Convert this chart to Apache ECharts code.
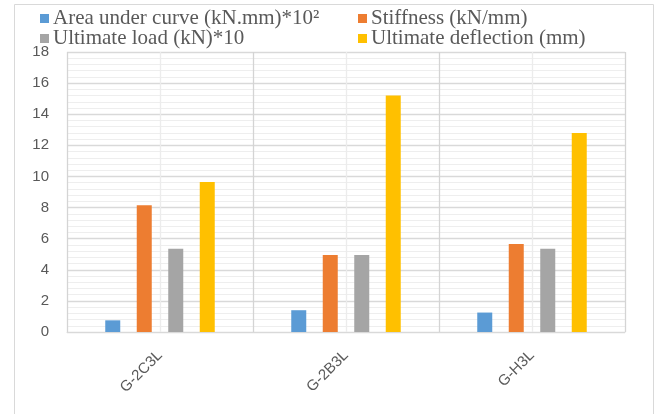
<!DOCTYPE html>
<html>
<head>
<meta charset="utf-8">
<script src="https://cdn.jsdelivr.net/npm/echarts@6/dist/echarts.min.js"></script>
<style>html,body{margin:0;padding:0;background:#fff;}#c{width:661px;height:414px;}</style>
</head>
<body>
<div id="c"></div>
<script>
const categories = ['G-2C3L', 'G-2B3L', 'G-H3L'];
const seriesNames = ['Area under curve (kN.mm)*10²', 'Stiffness (kN/mm)', 'Ultimate load (kN)*10', 'Ultimate deflection (mm)'];
const areaUnderCurve = [0.75, 1.4, 1.25];
const stiffness = [8.15, 4.95, 5.65];
const ultimateLoad = [5.35, 4.95, 5.35];
const ultimateDeflection = [9.65, 15.2, 12.8];
const yTicks = [0, 2, 4, 6, 8, 10, 12, 14, 16, 18];

const colors = ['#5b9bd5', '#ed7d31', '#a5a5a5', '#ffc000'];
const values = [areaUnderCurve, stiffness, ultimateLoad, ultimateDeflection];

const chart = echarts.init(document.getElementById('c'), null, {renderer: 'canvas'});
const legendBase = {
  icon: 'rect', itemWidth: 9, itemHeight: 9, itemGap: 0, padding: 0,
  textStyle: {fontFamily: 'Liberation Serif', fontSize: 21, color: '#595959', lineHeight: 20, padding: [0,0,0,-1]},
  selectedMode: false
};
const legendPos = [[40, 8], [358, 8], [40, 28], [358, 28]];
chart.setOption({
  animation: false,
  color: colors,
  graphic: [{
    type: 'rect', shape: {x: 14.5, y: 4.5, width: 639, height: 430},
    style: {fill: 'none', stroke: '#d9d9d9', lineWidth: 1}, silent: true
  }],
  legend: seriesNames.map((n, i) => Object.assign({}, legendBase, {data: [n], left: legendPos[i][0], top: legendPos[i][1]})),
  grid: {left: 67, right: 36, top: 52, bottom: 82},
  xAxis: [{
    type: 'category', data: categories, z: 3,
    axisLine: {show: true, lineStyle: {color: '#d9d9d9', width: 1}},
    axisTick: {show: false},
    splitLine: {show: false},
    axisLabel: {rotate: 45, margin: 21, fontFamily: 'Liberation Sans', fontSize: 15, color: '#595959'}
  }, {
    type: 'value', min: 0, max: 6, interval: 1, position: 'bottom',
    axisLine: {show: false}, axisTick: {show: false}, axisLabel: {show: false},
    splitLine: {show: true, lineStyle: {color: ['#d4d4d4', '#ececec'], width: 1.3}}
  }],
  yAxis: {
    type: 'value', min: 0, max: 18, interval: 2,
    axisLine: {show: false}, axisTick: {show: false},
    axisLabel: {margin: 18, fontFamily: 'Liberation Sans', fontSize: 15, color: '#595959',
      formatter: v => yTicks.includes(v) ? String(v) : ''},
    splitLine: {show: true, lineStyle: {color: '#d9d9d9', width: 1.3}},
    minorTick: {show: false, splitNumber: 5},
    minorSplitLine: {show: true, lineStyle: {color: '#eeeeee', width: 1}}
  },
  series: seriesNames.map((n, i) => ({
    name: n, type: 'bar', xAxisIndex: 0, data: values[i],
    barWidth: 15, barGap: '110%',
    itemStyle: {color: colors[i]}
  }))
});
</script>
</body>
</html>
